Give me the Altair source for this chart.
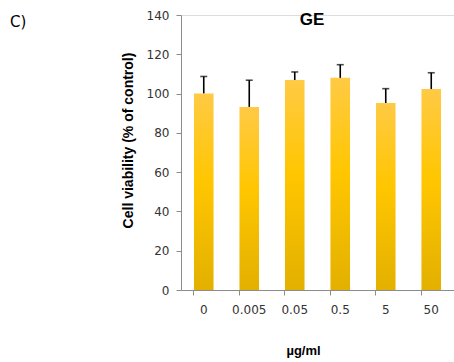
import altair as alt
import pandas as pd

conc = ["0", "0.005", "0.05", "0.5", "5", "50"]
viability = [100.1, 93.2, 106.9, 108.0, 95.2, 102.3]
err = [8.6, 13.6, 4.1, 6.7, 7.3, 8.3]

df = pd.DataFrame({"conc": conc, "v": viability, "e": err})

FONT = "DejaVu Sans"
TFONT = "Liberation Sans"

xaxis = alt.Axis(title="µg/ml", labelAngle=0, labelFont=FONT, labelFontSize=12,
                 labelColor="#333333", labelPadding=9, tickSize=5,
                 domainColor="#8c8c8c", tickColor="#8c8c8c", bandPosition=0,
                 labelOverlap=False, labelBound=False,
                 titleFont=TFONT, titleFontSize=13, titleFontWeight="bold",
                 titleColor="#000000", titleX=122, titleY=60,
                 titleBaseline="middle", titleAlign="center")
yaxis = alt.Axis(title="Cell viability (% of control)", values=[0, 20, 40, 60, 80, 100, 120, 140],
                 grid=False, labelFont=FONT, labelFontSize=12, labelColor="#333333",
                 labelPadding=7, tickSize=5, domainColor="#8c8c8c", tickColor="#8c8c8c",
                 labelOverlap=False, labelBound=False, labelFlush=False,
                 titleFont=TFONT, titleFontSize=14, titleFontWeight="bold",
                 titleColor="#000000", titleX=-53, titleY=125, titleAngle=270,
                 titleBaseline="middle", titleAlign="center")

xs = alt.Scale(paddingInner=0.57, paddingOuter=0.285)
ys = alt.Scale(domain=[0, 140], nice=False)

grad = alt.Gradient(gradient="linear", x1=0, y1=0, x2=0, y2=1,
                    stops=[alt.GradientStop(color="#FFCA45", offset=0),
                           alt.GradientStop(color="#FFC600", offset=0.45),
                           alt.GradientStop(color="#E3B000", offset=1)])

base = alt.Chart(df).transform_calculate(up="datum.v + datum.e")

bars = base.mark_bar(color=grad).encode(
    x=alt.X("conc:N", sort=conc, scale=xs, axis=xaxis),
    y=alt.Y("v:Q", scale=ys, axis=yaxis))
rule = base.mark_rule(color="#000000", strokeWidth=1.6).encode(
    x=alt.X("conc:N", sort=conc, scale=xs, axis=xaxis),
    y=alt.Y("v:Q", scale=ys, axis=yaxis), y2="up:Q")
cap = base.mark_tick(color="#000000", thickness=1.6, size=7, orient="horizontal").encode(
    x=alt.X("conc:N", sort=conc, scale=xs, axis=xaxis),
    y=alt.Y("up:Q", scale=ys, axis=yaxis))

ann = pd.DataFrame({"t": ["C)"]})
label = alt.Chart(ann).mark_text(
    font=FONT, fontSize=15, align="left", baseline="middle", color="#000000"
).encode(text="t:N", x=alt.value(-171), y=alt.value(7))
ttl = alt.Chart(pd.DataFrame({"t": ["GE"]})).mark_text(
    font=TFONT, fontSize=17, fontWeight="bold", align="center", baseline="middle", color="#000000"
).encode(text="t:N", x=alt.value(131), y=alt.value(5))

chart = alt.layer(bars, rule, cap, label, ttl).properties(
    width=273, height=275,
    autosize=alt.AutoSizeParams(type="none"),
    padding={"left": 181, "top": 15, "right": 0, "bottom": 72},
).configure_view(stroke=None).configure(background="white")

chart.save("out.html", embed_options={"renderer": "svg", "actions": False})
